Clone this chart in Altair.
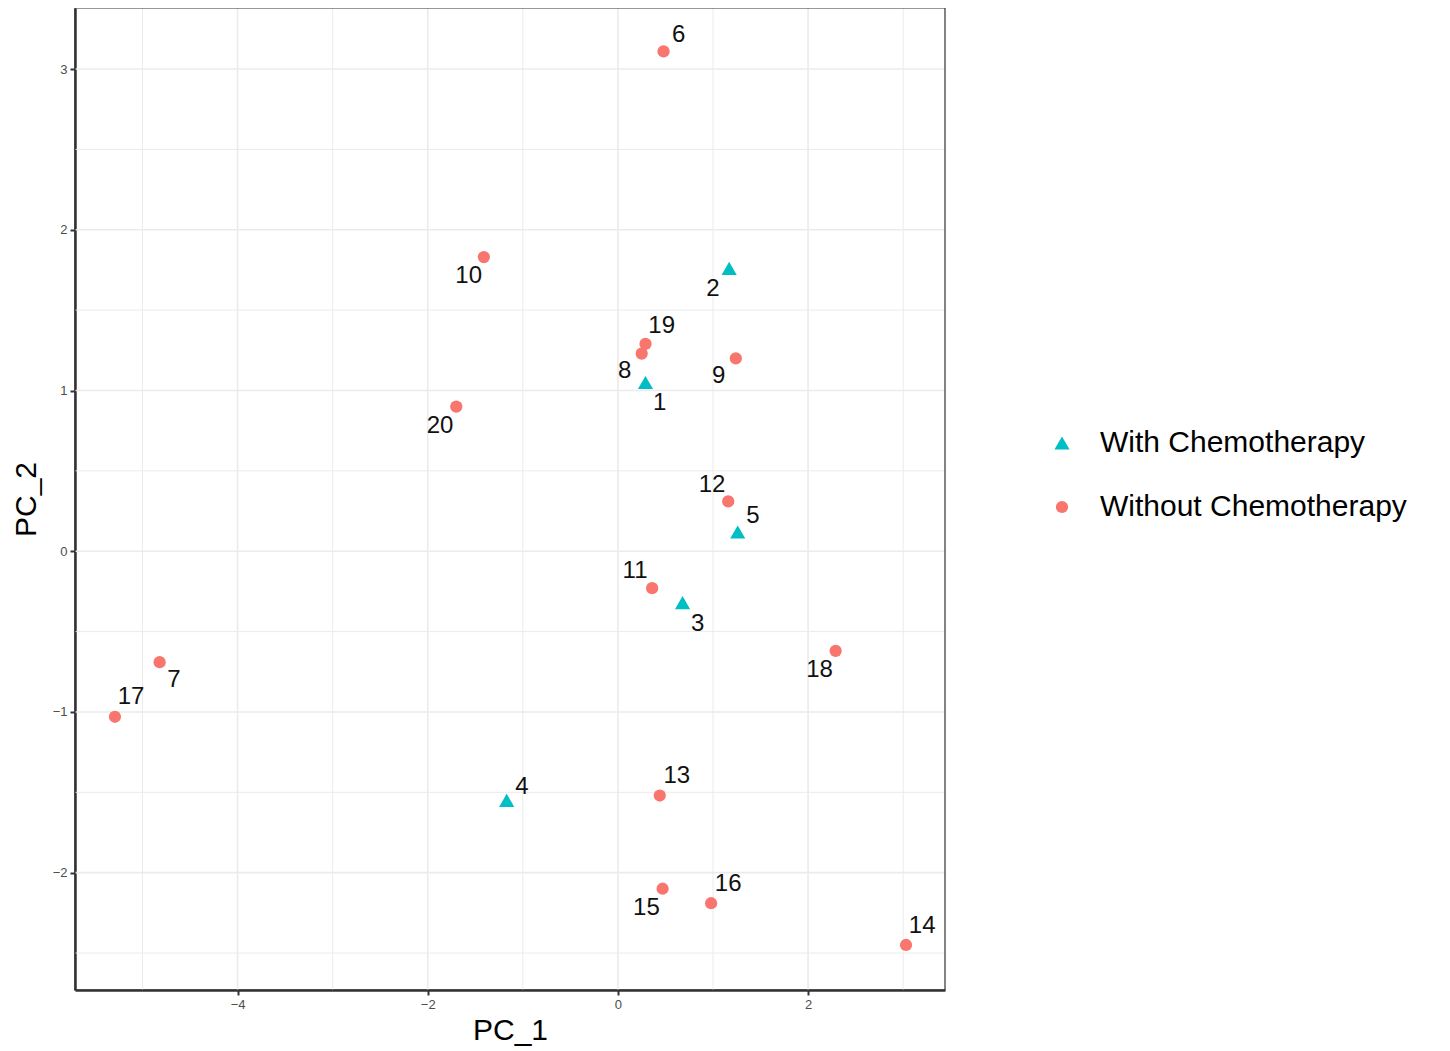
import altair as alt
import pandas as pd

# sample ids
sample = ["1", "2", "3", "4", "5", "6", "7", "8", "9", "10",
          "11", "12", "13", "14", "15", "16", "17", "18", "19", "20"]
group = ["With Chemotherapy", "With Chemotherapy", "With Chemotherapy", "With Chemotherapy", "With Chemotherapy",
         "Without Chemotherapy", "Without Chemotherapy", "Without Chemotherapy", "Without Chemotherapy", "Without Chemotherapy",
         "Without Chemotherapy", "Without Chemotherapy", "Without Chemotherapy", "Without Chemotherapy", "Without Chemotherapy",
         "Without Chemotherapy", "Without Chemotherapy", "Without Chemotherapy", "Without Chemotherapy", "Without Chemotherapy"]
pc1 = [0.29, 1.17, 0.68, -1.17, 1.26, 0.48, -4.82, 0.25, 1.24, -1.41,
       0.36, 1.16, 0.44, 3.03, 0.47, 0.98, -5.29, 2.29, 0.29, -1.70]
pc2 = [1.05, 1.76, -0.32, -1.55, 0.12, 3.11, -0.69, 1.23, 1.20, 1.83,
       -0.23, 0.31, -1.52, -2.45, -2.10, -2.19, -1.03, -0.62, 1.29, 0.90]
# repelled label anchors (data units)
lab_x = [0.44, 1.00, 0.84, -1.01, 1.42, 0.64, -4.67, 0.07, 1.06, -1.57,
         0.18, 0.99, 0.62, 3.20, 0.30, 1.16, -5.12, 2.12, 0.46, -1.87]
lab_y = [0.92, 1.63, -0.45, -1.47, 0.22, 3.21, -0.80, 1.12, 1.09, 1.71,
         -0.12, 0.41, -1.40, -2.33, -2.22, -2.07, -0.91, -0.74, 1.40, 0.78]

groups = ["With Chemotherapy", "Without Chemotherapy"]
group_colors = ["#00BFC4", "#F8766D"]
group_shapes = ["triangle-up", "circle"]

x_major = [-4, -2, 0, 2]
x_minor = [-5, -3, -1, 1, 3]
y_major = [-2, -1, 0, 1, 2, 3]
y_minor = [-2.5, -1.5, -0.5, 0.5, 1.5, 2.5]

x_dom = [-5.71, 3.44]
y_dom = [-2.73, 3.38]

df = pd.DataFrame({"sample": sample, "group": group, "PC_1": pc1, "PC_2": pc2,
                   "lx": lab_x, "ly": lab_y})

xs = alt.Scale(domain=x_dom, nice=False, zero=False)
ys = alt.Scale(domain=y_dom, nice=False, zero=False)

grid_col = "#EBEBEB"

vminor = alt.Chart(pd.DataFrame({"v": x_minor})).mark_rule(color=grid_col, strokeWidth=1).encode(
    x=alt.X("v:Q", scale=xs))
hminor = alt.Chart(pd.DataFrame({"v": y_minor})).mark_rule(color=grid_col, strokeWidth=1).encode(
    y=alt.Y("v:Q", scale=ys))
vmajor = alt.Chart(pd.DataFrame({"v": x_major})).mark_rule(color=grid_col, strokeWidth=1.6).encode(
    x=alt.X("v:Q", scale=xs))
hmajor = alt.Chart(pd.DataFrame({"v": y_major})).mark_rule(color=grid_col, strokeWidth=1.6).encode(
    y=alt.Y("v:Q", scale=ys))

leg = alt.Legend(title=None, orient="none", legendX=972, legendY=420,
                 labelFontSize=30, labelFont="Liberation Sans", labelLimit=0,
                 labelColor="#000000", rowPadding=34, labelOffset=23, symbolOpacity=1)

points = alt.Chart(df).mark_point(filled=True, opacity=1).encode(
    x=alt.X("PC_1:Q", scale=xs,
            axis=alt.Axis(values=x_major, grid=False, title="PC_1", format="d")),
    y=alt.Y("PC_2:Q", scale=ys,
            axis=alt.Axis(values=y_major, grid=False, title="PC_2", format="d")),
    color=alt.Color("group:N", scale=alt.Scale(domain=groups, range=group_colors), legend=leg),
    shape=alt.Shape("group:N", scale=alt.Scale(domain=groups, range=group_shapes), legend=leg),
    size=alt.Size("group:N", scale=alt.Scale(domain=groups, range=[230, 150]), legend=leg),
)

labels = alt.Chart(df).mark_text(fontSize=24, font="Liberation Sans", color="#111111",
                                 baseline="middle", align="center").encode(
    x=alt.X("lx:Q", scale=xs),
    y=alt.Y("ly:Q", scale=ys),
    text="sample:N",
)

border = alt.Chart(pd.DataFrame({"a": [0]})).mark_rect(fill=None, stroke="#333333", strokeWidth=1.2).encode(
    x=alt.value(0), x2=alt.value(870), y=alt.value(0), y2=alt.value(982))

chart = alt.layer(vminor, hminor, vmajor, hmajor, points, labels, border).properties(
    width=870, height=982,
    autosize=alt.AutoSizeParams(type="none"),
    padding={"left": 67, "top": 0, "right": 490, "bottom": 57},
).configure_view(stroke=None).configure_axis(
    domainColor="#333333", domainWidth=2.5,
    tickColor="#333333", tickWidth=2, tickSize=5,
    labelFontSize=13, labelColor="#4D4D4D", labelFont="Liberation Sans",
    titleFontSize=30, titleFont="Liberation Sans", titleFontWeight="normal", titleColor="#000000",
    labelPadding=3,
).configure_axisX(titlePadding=4).configure_axisY(titlePadding=11)

chart.save("out.html", embed_options={"renderer": "svg", "actions": False})
